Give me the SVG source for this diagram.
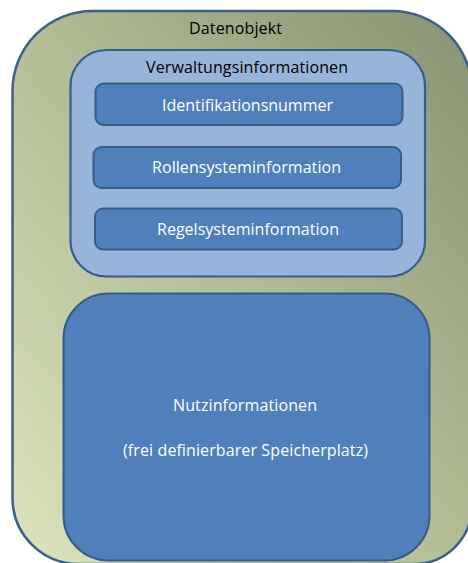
<svg xmlns="http://www.w3.org/2000/svg" width="468" height="563" viewBox="0 0 468 563">
  <defs>
    <linearGradient id="olive" x1="0" y1="1" x2="1" y2="0">
      <stop offset="0" stop-color="#dbe4bd"/>
      <stop offset="0.5" stop-color="#b3bd95"/>
      <stop offset="1" stop-color="#879273"/>
    </linearGradient>
    <style>
      text { font-family: "Open Sans", "Liberation Sans", sans-serif; font-size: 16px; text-anchor: middle; }
      .dark { fill: #000000; }
      .light { fill: #ffffff; }
      .outer { fill: url(#olive); stroke: #3d5f8e; stroke-width: 2.5; }
      .group { fill: #98b5d9; stroke: #3a5e8c; stroke-width: 2.2; }
      .item { fill: #4f80bc; stroke: #395c89; stroke-width: 2; }
    </style>
  </defs>

  <g id="datenobjekt">
    <path class="outer" d="M12.5,91 A80,80 0 0 1 92.5,11 L392,11 A80,80 0 0 1 472,91 L472,506 A58,58 0 0 1 414,564 L78.5,564 A66,66 0 0 1 12.5,498 Z"/>
    <text class="dark" x="235.5" y="34" textLength="93">Datenobjekt</text>
  </g>

  <g id="verwaltungsinformationen">
    <rect class="group" x="70.5" y="50" width="354.5" height="226.5" rx="36" ry="36"/>
    <text class="dark" x="247" y="72.5" textLength="202">Verwaltungsinformationen</text>
  </g>

  <g id="identifikationsnummer">
    <rect class="item" x="95.5" y="83.5" width="307" height="41.5" rx="8" ry="8"/>
    <text class="light" x="247.5" y="111" textLength="171">Identifikationsnummer</text>
  </g>

  <g id="rollensysteminformation">
    <rect class="item" x="93.5" y="147" width="307.5" height="41" rx="8" ry="8"/>
    <text class="light" x="246.5" y="173" textLength="189">Rollensysteminformation</text>
  </g>

  <g id="regelsysteminformation">
    <rect class="item" x="95" y="208.5" width="307" height="41" rx="8" ry="8"/>
    <text class="light" x="248" y="235" textLength="182">Regelsysteminformation</text>
  </g>

  <g id="nutzinformationen">
    <rect class="item" x="63.5" y="293.5" width="366" height="267" rx="45" ry="45"/>
    <text class="light" x="245" y="411" textLength="144">Nutzinformationen</text>
    <text class="light" x="245.5" y="455.5" textLength="245">(frei definierbarer Speicherplatz)</text>
  </g>

  <g id="connectors"/>
</svg>
